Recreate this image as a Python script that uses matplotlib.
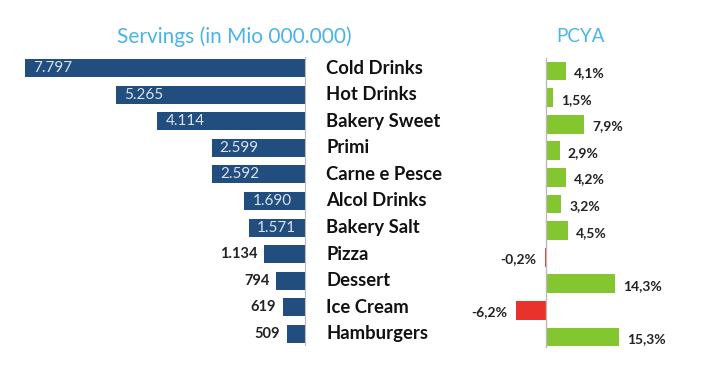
import matplotlib.pyplot as plt
from matplotlib.transforms import blended_transform_factory, offset_copy

plt.rcParams['font.family'] = ['Lato', 'DejaVu Sans']

categories = ['Cold Drinks', 'Hot Drinks', 'Bakery Sweet', 'Primi', 'Carne e Pesce',
              'Alcol Drinks', 'Bakery Salt', 'Pizza', 'Dessert', 'Ice Cream', 'Hamburgers']
servings = [7797, 5265, 4114, 2599, 2592, 1690, 1571, 1134, 794, 619, 509]
pcya = [4.1, 1.5, 7.9, 2.9, 4.2, 3.2, 4.5, -0.2, 14.3, -6.2, 15.3]

navy = '#214e7e'
green = '#84c630'
red = '#e8322b'
blue_title = '#4ab4e6'
W, H = 707, 380

fig = plt.figure(figsize=(W / 100, H / 100), dpi=100)

# pixel helpers
def fx(px):
    return px / W

row = 26.6
top_px = 68 - 0.6 * row
bot_px = 334 + 0.6 * row

# ---- left panel: servings
x0, x1 = 10, 305
ax1 = fig.add_axes([fx(x0), (H - bot_px) / H, fx(x1 - x0), (bot_px - top_px) / H])
scale = 35.9 / 1000  # px per serving unit
ax1.set_xlim(-(x1 - x0) / scale, 0)
ax1.set_ylim(len(categories) - 1 + 0.6, -0.6)
y = list(range(len(categories)))
ax1.barh(y, [-v for v in servings], height=0.68, color=navy)
for s in ['top', 'left', 'bottom']:
    ax1.spines[s].set_visible(False)
ax1.spines['right'].set_color('#bbbbbb')
ax1.spines['right'].set_bounds(-0.4, len(categories) - 1 + 0.4)
ax1.set_xticks([])
ax1.set_yticks([])

for i, v in enumerate(servings):
    lab = f'{v:,}'.replace(',', '.')
    if v >= 1500:
        t = offset_copy(ax1.transData, fig=fig, x=8, y=0, units='dots')
        ax1.text(-v, i, lab, transform=t, ha='left', va='center',
                 color='#dbe3ee', fontsize=11)
    else:
        t = offset_copy(ax1.transData, fig=fig, x=-7, y=0, units='dots')
        ax1.text(-v, i, lab, transform=t, ha='right', va='center',
                 color='#222222', fontsize=10.5, fontweight='bold')

# category labels
tr = blended_transform_factory(fig.transFigure, ax1.transData)
for i, c in enumerate(categories):
    ax1.text(fx(326), i, c, transform=tr, ha='left', va='center',
             fontsize=13.3, fontweight='bold', color='#111111')

fig.text(fx(234), 1 - 37 / H, 'Servings (in Mio 000.000)', ha='center', va='center',
         color=blue_title, fontsize=15)
fig.text(fx(580), 1 - 37 / H, 'PCYA', ha='center', va='center',
         color=blue_title, fontsize=13.5)

# ---- right panel: PCYA
r0, r1, zero = 480, 705, 546
pscale = 4.8
shift = 3
ax2 = fig.add_axes([fx(r0), (H - bot_px - shift) / H, fx(r1 - r0), (bot_px - top_px) / H])
ax2.set_xlim((r0 - zero) / pscale, (r1 - zero) / pscale)
ax2.set_ylim(len(categories) - 1 + 0.6, -0.6)
ax2.barh(y, pcya, height=0.7, color=[green if p >= 0 else red for p in pcya])
ax2.axvline(0, color='#bbbbbb', lw=1, ymin=0.02, ymax=0.99)
for s in ax2.spines.values():
    s.set_visible(False)
ax2.set_xticks([])
ax2.set_yticks([])

for i, p in enumerate(pcya):
    lab = f'{p:.1f}%'.replace('.', ',')
    if p >= 0:
        t = offset_copy(ax2.transData, fig=fig, x=8, y=-2, units='dots')
        ax2.text(p, i, lab, transform=t, ha='left', va='center',
                 fontsize=10, fontweight='bold', color='#222222')
    else:
        t = offset_copy(ax2.transData, fig=fig, x=-9, y=-2, units='dots')
        ax2.text(p, i, lab, transform=t, ha='right', va='center',
                 fontsize=10, fontweight='bold', color='#222222')

fig.savefig('out.png', dpi=100)
